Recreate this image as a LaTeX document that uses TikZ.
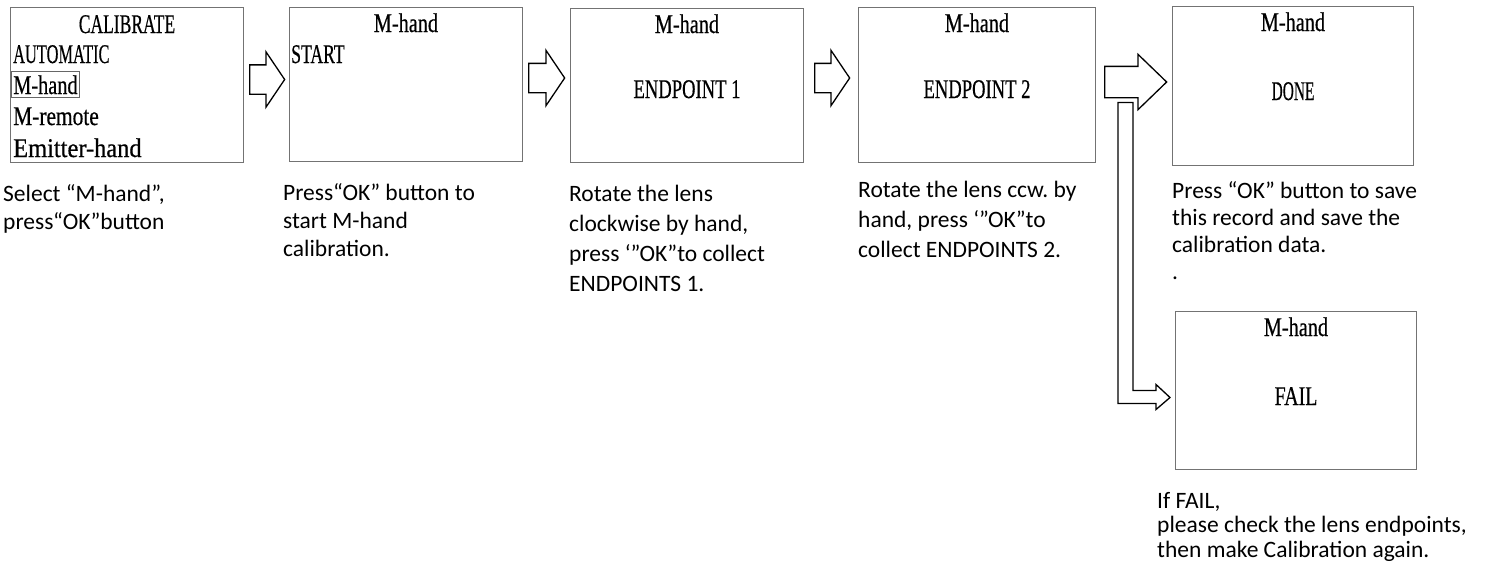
\documentclass[tikz,border=0pt]{standalone}
\usepackage{fontspec}
\usepackage{graphicx}
\usepackage{xstring}
\usepackage{tikz}
\usetikzlibrary{shapes.arrows,positioning,calc}
\newfontfamily\lcdfont[FakeBold=0.6]{Liberation Serif}
\newfontfamily\notefont{Carlito}
% half-width screen font: every character gets the same width
\newcommand\lcd[1]{\StrLen{#1}[\lcdlen]\resizebox{\lcdlen\dimexpr 10.7pt\relax}{\height}{#1}}
\frenchspacing

\begin{document}
\begin{tikzpicture}[x=1pt,y=1pt,
  screen/.style={draw=black!55, line width=1pt, anchor=north west, inner sep=0pt},
  lcd/.style={font=\lcdfont\fontsize{27}{31}\selectfont, inner sep=0pt, anchor=base},
  note/.style={font=\notefont\fontsize{23.5}{#1}\selectfont, align=left, inner sep=0pt, anchor=north west},
  note/.default=28pt,
  flowarrow/.style={single arrow, draw=black, line width=1.3pt, fill=white, inner xsep=0pt, inner ysep=14pt,
    minimum width=54pt, single arrow head extend=13pt, single arrow tip angle=#1, anchor=tail},
  flowarrow/.default=112]
\useasboundingbox (0,0) rectangle (1488,-571);

  % screens
  \node[screen, minimum width=233pt, minimum height=155pt] (cal) at (10,-7) {};
  \node[screen, minimum width=233pt, minimum height=154pt] (start) at (289,-7) {};
  \node[screen, minimum width=233pt, minimum height=154pt] (end1) at (570,-8) {};
  \node[screen, minimum width=237pt, minimum height=155pt] (end2) at (858,-7) {};
  \node[screen, minimum width=241pt, minimum height=159pt] (done) at (1172,-6) {};
  \node[screen, minimum width=241pt, minimum height=158pt] (fail) at (1175,-311) {};

  \node[lcd] (caltitle) at ([yshift=-26pt]cal.north) {\lcd{CALIBRATE}};
  \node[lcd, anchor=base west] (auto) at ([xshift=3pt,yshift=-56pt]cal.north west) {\lcd{AUTOMATIC}};
  \node[lcd, anchor=base west, draw=black!60, line width=0.8pt, inner xsep=2pt, inner ysep=3.5pt] (mhand)
    at ([xshift=1pt,yshift=-87pt]cal.north west) {\lcd{M-hand}};
  \node[lcd, anchor=base west] (remote) at ([xshift=3pt,yshift=-118pt]cal.north west) {\lcd{M-remote}};
  \node[lcd, anchor=base west] (emitter) at ([xshift=3pt,yshift=-150pt]cal.north west) {\lcd{Emitter-hand}};

  \foreach \s in {start,end1,end2,done,fail}
    \node[lcd] (\s-title) at ([yshift=-25pt]\s.north) {\lcd{M-hand}};
  \node[lcd, anchor=base west] (starttxt) at ([xshift=2pt,yshift=-56pt]start.north west) {\lcd{START}};
  \node[lcd] (end1txt) at ([yshift=-90pt]end1.north) {\lcd{ENDPOINT 1}};
  \node[lcd] (end2txt) at ([yshift=-91pt]end2.north) {\lcd{ENDPOINT 2}};
  \node[lcd] (donetxt) at ([yshift=-94pt]done.north) {\lcd{DONE}};
  \node[lcd] (failtxt) at ([yshift=-94pt]fail.north) {\lcd{FAIL}};

  % arrows
  \node[flowarrow, minimum height=35pt] (a1) at ([xshift=5pt,yshift=5.5pt]cal.east) {};
  \node[flowarrow, minimum height=36pt] (a2) at ([xshift=5pt,yshift=6.5pt]start.east) {};
  \node[flowarrow, minimum height=35pt] (a3) at ([xshift=10pt,yshift=7.5pt]end1.east) {};
  \node[flowarrow=88, minimum height=62pt, inner ysep=15pt, single arrow head extend=12pt] (a4)
    at ([xshift=8pt,yshift=3pt]end2.east) {};

  \coordinate (ltop) at ([xshift=14pt,yshift=-20.5pt]a4.tail);
  \coordinate (ftip) at ([xshift=-5pt,yshift=-7pt]fail.west);
  \draw[line width=1.3pt, fill=white] (ltop) -- ++(15,0) |- ([xshift=-14pt,yshift=7pt]ftip) -- ++(0,6)
    -- (ftip) -- ++(-14,-12) -- ++(0,6) coordinate (lbot) -- (lbot -| ltop) -- cycle;

  % notes
  \node[note] (calnote) at ([xshift=-7pt,yshift=-21pt]cal.south west) {Select “M-hand”,\\press“OK”button};
  \node[note] (startnote) at ([xshift=-6pt,yshift=-21pt]start.south west) {Press“OK” button to\\start M-hand\\calibration.};
  \node[note=30pt] (end1note) at ([xshift=-1pt,yshift=-22pt]end1.south west) {Rotate the lens\\clockwise by hand,\\press ‘”OK”to collect\\ENDPOINTS 1.};
  \node[note=30pt] (end2note) at ([xshift=0pt,yshift=-18pt]end2.south west) {Rotate the lens ccw. by\\hand, press ‘”OK”to\\collect ENDPOINTS 2.};
  \node[note=27pt] (donenote) at ([xshift=0pt,yshift=-15pt]done.south west) {Press “OK” button to save\\this record and save the\\calibration data.\\.};
  \node[note=24.5pt] (failnote) at ([xshift=-18pt,yshift=-22pt]fail.south west)
    {If FAIL,\\please check the lens endpoints,\\then make Calibration again.};
\end{tikzpicture}
\end{document}
